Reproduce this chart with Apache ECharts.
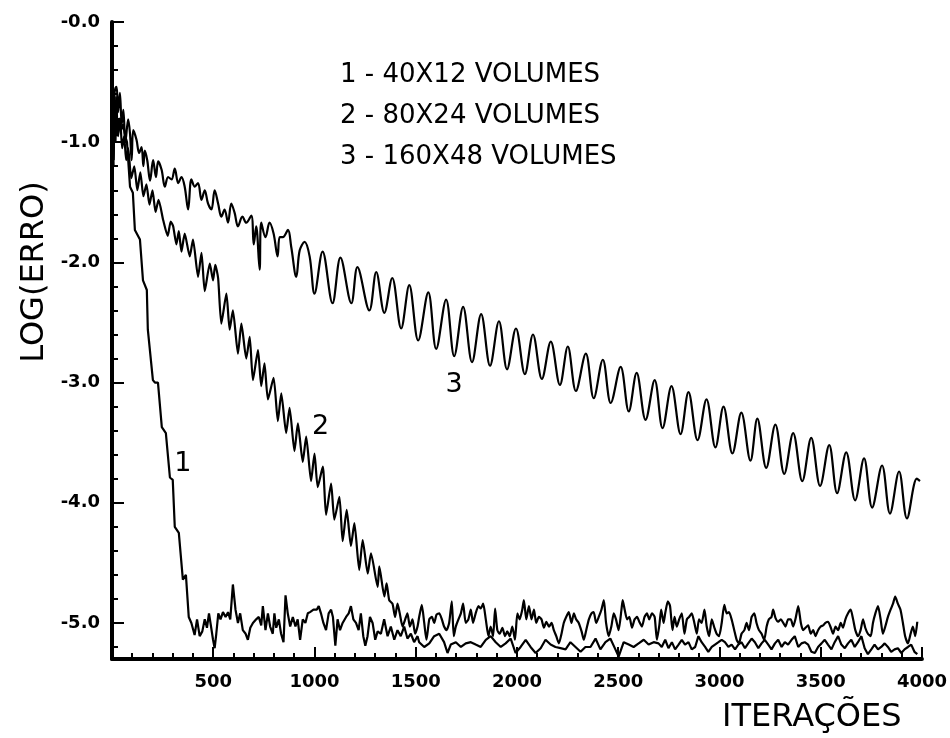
<!DOCTYPE html>
<html>
<head>
<meta charset="utf-8">
<script src="https://cdn.jsdelivr.net/npm/echarts@6/dist/echarts.min.js"></script>
<style>html,body{margin:0;padding:0;background:#fff}#c{width:950px;height:738px}</style>
</head>
<body>
<div id="c"></div>
<script>
// ---- Curve 1 : 40X12 VOLUMES ----
const s1Iter = [0,4,8,12,17,22,28,35,45,55,65,74,89,103,113,138,153,172,177,202,212,227,246,266,286,300,310,330,350,365,379,392,
408,420,433,446,458,469,479,490,499,507,515,525,536,548,561,573,584,597,610,622,633,646,660,671,683,696,712,725,737,745,758,770,781,794,802,811,824,835,847,857,868,880,893,906,917,929,942,955,967,978,995,1011,1021,1032,1044,1057,1070,1082,1091,1103,1114,1126,1139,1156,1169,1180,1192,1205,1218,1229,1241,1251,1262,1274,1287,1300,1312,
1328,1344,1361,1377,1394,1410,1426,1443,1459,1476,1492,1509,
1517,1542,1567,1591,1616,1640,1657,1673,1698,1723,1747,1772,1796,1821,1846,1870,1895,1920,1944,1969,1993,2018,2043,2067,2092,2117,2141,2166,2190,2215,2240,2264,2289,2314,2338,2363,2388,2412,2437,2461,2486,2502,2527,2552,2576,2601,2626,2650,2675,2699,
2715,2732,2748,2765,2781,2798,2814,2830,2847,2863,2880,2896,2912,2929,2945,2962,2978,2995,3011,3027,3044,3060,3077,3093,3109,3126,3142,3159,3175,3192,3208,3224,3241,3257,3274,3290,3307,3323,3339,3356,3372,3389,3405,3421,3438,3454,3471,3487,3504,3520,3536,3553,3569,3586,3602,3619,3635,3651,3668,3684,3701,3717,3733,3750,3766,3783,3799,3816,3832,3848,3865,3881,3898,3914,3931,3947,3963,3977];
const s1Log = [-1.25,-0.80,-1.15,-0.75,-1.00,-0.70,-0.95,-0.80,-0.90,-0.85,-0.95,-1.00,-1.37,-1.42,-1.73,-1.81,-2.15,-2.23,-2.56,-2.98,-3.00,-3.00,-3.37,-3.42,-3.79,-3.81,-4.20,-4.25,-4.64,-4.60,-4.95,-5.00,
-5.10,-4.97,-5.11,-5.07,-4.97,-5.04,-4.92,-5.04,-5.14,-5.21,-5.09,-4.92,-4.97,-4.91,-4.95,-4.91,-4.97,-4.68,-4.89,-5.00,-4.92,-5.06,-5.09,-5.14,-5.04,-5.00,-4.97,-4.95,-5.02,-4.86,-5.06,-4.92,-5.03,-5.09,-4.92,-5.04,-4.97,-5.09,-5.16,-4.77,-4.92,-5.03,-4.95,-5.03,-4.97,-5.14,-4.97,-5.00,-4.92,-4.91,-4.89,-4.89,-4.86,-4.92,-5.00,-5.06,-4.92,-4.89,-4.95,-5.19,-4.97,-5.06,-5.00,-4.95,-4.92,-4.86,-4.97,-5.00,-5.06,-4.92,-5.11,-5.19,-5.11,-4.95,-5.00,-5.14,-5.07,
-5.09,-4.97,-5.11,-5.03,-5.14,-5.06,-5.11,-5.03,-5.13,-5.09,-5.16,-5.11,
-5.16,-5.20,-5.17,-5.11,-5.09,-5.16,-5.25,-5.18,-5.16,-5.20,-5.17,-5.16,-5.18,-5.20,-5.14,-5.11,-5.16,-5.20,-5.17,-5.13,-5.25,-5.20,-5.14,-5.20,-5.25,-5.21,-5.14,-5.18,-5.20,-5.21,-5.22,-5.16,-5.20,-5.24,-5.20,-5.20,-5.13,-5.22,-5.16,-5.13,-5.22,-5.28,-5.16,-5.18,-5.20,-5.17,-5.14,-5.18,-5.16,-5.17,
-5.20,-5.14,-5.21,-5.16,-5.22,-5.18,-5.14,-5.18,-5.16,-5.22,-5.20,-5.11,-5.16,-5.20,-5.24,-5.20,-5.18,-5.16,-5.14,-5.16,-5.20,-5.18,-5.22,-5.18,-5.16,-5.21,-5.17,-5.13,-5.16,-5.21,-5.17,-5.14,-5.18,-5.22,-5.17,-5.14,-5.20,-5.16,-5.18,-5.14,-5.11,-5.20,-5.17,-5.16,-5.18,-5.24,-5.25,-5.20,-5.17,-5.14,-5.18,-5.22,-5.16,-5.11,-5.18,-5.21,-5.17,-5.14,-5.20,-5.16,-5.11,-5.21,-5.26,-5.22,-5.18,-5.22,-5.20,-5.17,-5.20,-5.24,-5.22,-5.21,-5.25,-5.22,-5.20,-5.18,-5.24,-5.26];

// ---- Curve 2 : 80X24 VOLUMES ----
const s2Iter = [0,4,8,12,16,20,25,30,40,50,60,70,80,95,110,125,140,155,170,185,200,215,230,253,275,290,302,318,330,343,359,384,400,425,442,458,483,499,510,524,540,565,581,597,622,639,663,680,696,721,737,753,770,798,819,836,860,877,901,918,942,959,983,1000,1016,1041,1057,1082,1098,1123,1139,1159,1180,1197,1221,1238,1263,1279,1312,1320,1345,1356,1369,
1385,1398,1410,1421,1435,1448,1459,1471,1484,1497,1509,
1517,1530,1542,1553,1567,1580,1591,1603,1616,1629,1640,1652,1665,1678,1688,1698,1711,1723,1734,1747,1760,1772,1783,1796,1810,1821,1833,1846,1859,1870,1882,1892,1903,1915,1928,1941,1952,1964,1977,1990,2002,2013,2026,2034,2046,2059,2072,2084,2095,2108,2121,2133,2145,2158,2171,2182,2194,2207,2220,2231,2243,2256,2269,2281,2292,2305,2319,2330,2342,2355,2368,2379,2391,2404,2417,2429,2440,2453,2466,2478,2489,2502,2516,2522,2532,2544,2555,2568,2581,2593,2604,2617,2630,2642,2653,2667,2680,2691,2703,
2712,2724,2732,2745,2756,2768,2778,2789,2801,2814,2827,2839,2850,2863,2876,2888,2899,2912,2926,2937,2949,2962,2975,2986,2998,3011,3024,3036,3047,3060,3073,3085,3096,3109,3123,3134,3146,3159,3172,3183,3195,3208,3221,3233,3244,3257,3265,3277,3290,3303,3315,3326,3339,3352,3364,3375,3389,3402,3413,3425,3438,3451,3463,3474,3487,3500,3512,3523,3536,3550,3561,3573,3586,3599,3610,3622,3635,3648,3660,3671,3684,3697,3709,3720,3733,3747,3758,3770,3783,3796,3807,3819,3832,3845,3857,3868,3881,3894,3906,3917,3931,3944,3955,3967,3977];
const s2Log = [-1.30,-0.90,-1.20,-0.65,-0.85,-0.62,-0.80,-0.95,-0.80,-1.05,-0.95,-1.15,-1.05,-1.30,-1.20,-1.40,-1.25,-1.45,-1.35,-1.52,-1.40,-1.58,-1.48,-1.65,-1.78,-1.66,-1.70,-1.85,-1.74,-1.91,-1.76,-1.95,-1.81,-2.12,-1.92,-2.24,-2.01,-2.15,-2.02,-2.13,-2.51,-2.26,-2.56,-2.40,-2.76,-2.51,-2.80,-2.62,-2.98,-2.73,-3.03,-2.84,-3.14,-2.96,-3.32,-3.09,-3.42,-3.21,-3.57,-3.34,-3.66,-3.45,-3.82,-3.59,-3.87,-3.70,-4.10,-3.84,-4.14,-3.95,-4.32,-4.06,-4.36,-4.17,-4.56,-4.31,-4.59,-4.42,-4.70,-4.53,-4.78,-4.67,-4.81,
-4.84,-4.95,-4.84,-4.92,-5.03,-4.97,-4.92,-5.03,-4.97,-5.09,-5.03,
-4.95,-4.85,-5.00,-5.14,-4.97,-4.95,-5.00,-4.93,-4.92,-4.97,-5.03,-5.06,-5.00,-4.82,-5.11,-5.03,-4.97,-4.92,-4.84,-5.00,-4.97,-4.89,-5.00,-4.92,-4.86,-4.88,-4.84,-4.97,-5.11,-5.03,-5.11,-4.88,-5.06,-5.09,-5.04,-5.11,-5.07,-5.11,-5.03,-5.14,-4.92,-4.97,-4.89,-4.81,-4.97,-4.86,-4.97,-4.89,-5.00,-4.95,-4.97,-5.04,-4.99,-5.03,-5.00,-5.06,-5.11,-5.17,-5.09,-5.00,-4.95,-4.91,-5.00,-4.92,-4.97,-5.00,-5.07,-5.14,-5.06,-4.97,-4.92,-4.91,-5.00,-4.95,-4.89,-4.81,-5.00,-5.11,-5.03,-4.92,-4.97,-5.06,-4.89,-4.81,-4.89,-4.97,-4.95,-5.04,-4.97,-4.95,-4.99,-5.03,-4.95,-4.92,-4.97,-4.92,-4.95,-5.14,-5.02,
-4.89,-5.00,-4.92,-4.82,-4.86,-5.06,-4.95,-5.03,-4.97,-4.92,-5.09,-4.97,-4.95,-4.92,-5.00,-5.09,-4.97,-5.00,-4.89,-5.03,-5.11,-4.97,-5.04,-5.09,-5.11,-5.00,-4.85,-4.92,-4.91,-4.97,-5.06,-5.14,-5.17,-5.09,-5.06,-5.00,-5.06,-4.95,-4.92,-5.00,-5.06,-5.09,-5.14,-5.03,-4.97,-4.95,-4.89,-4.96,-4.99,-4.97,-5.00,-5.03,-4.97,-4.97,-5.03,-4.97,-4.86,-5.00,-5.06,-5.04,-5.02,-5.09,-5.06,-5.11,-5.06,-5.03,-5.02,-5.00,-4.99,-5.04,-5.09,-5.03,-5.06,-5.00,-5.04,-4.97,-4.92,-4.89,-4.97,-5.06,-5.11,-5.06,-4.97,-5.04,-5.09,-5.11,-5.00,-4.92,-4.86,-4.97,-5.09,-5.03,-4.95,-4.89,-4.84,-4.78,-4.84,-4.89,-5.00,-5.11,-5.17,-5.09,-5.03,-5.11,-4.99];

// ---- Curve 3 : 160X48 VOLUMES ----
const s3Iter = [0,4,8,12,17,23,30,39,48,56,66,80,89,97,105,121,134,146,155,162,174,188,203,217,228,245,261,277,294,310,327,343,359,376,392,409,425,442,458,474,491,507,524,540,556,573,589,606,622,644,663,688,700,712,729,737,758,778,798,818,828,844,869,885,910,927,951,976,1000,1040,1089,1128,1182,1212,1271,1305,1345,1384,1428,1468,1512,1562,1601,1650,1690,1734,1778,1823,1867,1911,1951,1995,2039,2079,2123,2167,2212,2251,2291,2340,2379,2424,2463,2512,2552,2591,2635,2680,2719,2763,2808,2847,2892,2936,2980,3020,3064,3108,3153,3187,3231,3276,3320,3364,3409,3453,3497,3542,3581,3626,3670,3714,3754,3803,3842,3887,3926,3975,3990];
const s3Log = [-1.20,-0.75,-1.05,-0.60,-0.55,-0.54,-0.75,-0.59,-0.85,-0.73,-1.00,-0.81,-0.93,-1.15,-0.90,-0.98,-1.09,-1.04,-1.20,-1.07,-1.15,-1.32,-1.15,-1.29,-1.16,-1.23,-1.37,-1.29,-1.31,-1.22,-1.34,-1.29,-1.37,-1.56,-1.31,-1.37,-1.34,-1.48,-1.40,-1.51,-1.56,-1.40,-1.51,-1.62,-1.56,-1.67,-1.51,-1.59,-1.70,-1.62,-1.67,-1.61,-1.85,-1.70,-2.06,-1.67,-1.79,-1.67,-1.76,-1.95,-1.79,-1.79,-1.73,-1.87,-2.12,-1.90,-1.83,-1.95,-2.26,-1.91,-2.34,-1.96,-2.34,-2.04,-2.40,-2.08,-2.42,-2.13,-2.55,-2.19,-2.65,-2.25,-2.72,-2.31,-2.78,-2.37,-2.83,-2.43,-2.86,-2.49,-2.89,-2.55,-2.93,-2.60,-2.97,-2.66,-3.02,-2.70,-3.07,-2.76,-3.13,-2.81,-3.17,-2.87,-3.24,-2.92,-3.31,-2.98,-3.38,-3.03,-3.43,-3.08,-3.48,-3.14,-3.54,-3.20,-3.59,-3.25,-3.65,-3.30,-3.71,-3.35,-3.76,-3.42,-3.82,-3.46,-3.86,-3.52,-3.92,-3.58,-3.98,-3.63,-4.04,-3.69,-4.09,-3.74,-4.13,-3.80,-3.82];

// ---- Axis ticks and labels ----
const xMajorTicks = [500,1000,1500,2000,2500,3000,3500,4000];
const yMajorTicks = [-5,-4,-3,-2,-1,0];
const yMinorTicks = [-5.2,-5.0,-4.8,-4.6,-4.4,-4.2,-4.0,-3.8,-3.6,-3.4,-3.2,-3.0,-2.8,-2.6,-2.4,-2.2,-2.0,-1.8,-1.6,-1.4,-1.2,-1.0,-0.8,-0.6,-0.4,-0.2,0];
const legendLines = ['1 - 40X12 VOLUMES','2 - 80X24 VOLUMES','3 - 160X48 VOLUMES'];
const curveNames = ['1','2','3'];
const curveLabelIter = [350,1030,1690];
const curveLabelLog = [-3.68,-3.37,-3.02];
const xTitle = 'ITERAÇÕES';
const yTitle = 'LOG(ERRO)';

function zip(a,b){ return a.map((v,i)=>[v,b[i]]); }

const FONT = 'DejaVu Sans';
const chart = echarts.init(document.getElementById('c'), null, {renderer:'canvas'});

function mkSeries(idx, iters, logs, smooth){
  return {
    type:'line', name: legendLines[idx], data: zip(iters, logs),
    showSymbol:false, symbol:'none', smooth: smooth, clip:true,
    lineStyle:{color:'#000', width:2.2},
    xAxisIndex:0, yAxisIndex:0,
    markPoint:{
      symbol:'circle', symbolSize:0, animation:false,
      data:[{coord:[curveLabelIter[idx], curveLabelLog[idx]], value:curveNames[idx]}],
      label:{show:true, position:'inside', formatter:curveNames[idx], color:'#000', fontFamily:FONT, fontSize:27}
    }
  };
}

const option = {
  animation:false,
  backgroundColor:'#fff',
  grid:{left:112, right:28, top:22, bottom:79},
  xAxis:[{
    type:'value', min:0, max:4000, interval:500, position:'bottom',
    axisLine:{show:true, onZero:false, lineStyle:{color:'#000', width:4}},
    axisTick:{show:true, inside:true, length:12, lineStyle:{color:'#000', width:2}},
    minorTick:{show:true, splitNumber:5, length:6, lineStyle:{color:'#000', width:2}},
    splitLine:{show:false}, minorSplitLine:{show:false},
    axisLabel:{show:true, margin:14, color:'#000', fontFamily:FONT, fontWeight:'bold', fontSize:18,
      formatter:v => xMajorTicks.indexOf(v) >= 0 ? String(v) : ''}
  }],
  yAxis:[{
    type:'value', min:-5.3, max:0,
    axisLine:{show:true, onZero:false, lineStyle:{color:'#000', width:4}},
    axisTick:{show:true, inside:true, length:12, customValues:yMajorTicks, lineStyle:{color:'#000', width:2}},
    splitLine:{show:false},
    axisLabel:{show:true, margin:12, customValues:yMajorTicks, color:'#000', fontFamily:FONT, fontWeight:'bold', fontSize:18,
      formatter:v => (Math.abs(v) < 1e-9 ? '-0.0' : v.toFixed(1))}
  },{
    type:'value', min:-5.3, max:0, position:'left',
    axisLine:{show:false, onZero:false},
    axisTick:{show:true, inside:true, length:6, customValues:yMinorTicks, lineStyle:{color:'#000', width:2}},
    splitLine:{show:false},
    axisLabel:{show:false}
  }],
  series:[
    mkSeries(0, s1Iter, s1Log, false),
    mkSeries(1, s2Iter, s2Log, 0.2),
    mkSeries(2, s3Iter, s3Log, 0.35)
  ],
  graphic:[
    {type:'text', left:340, top:62, style:{text:legendLines[0], fill:'#000', font:'26px "DejaVu Sans"'}},
    {type:'text', left:340, top:103, style:{text:legendLines[1], fill:'#000', font:'26px "DejaVu Sans"'}},
    {type:'text', left:340, top:144, style:{text:legendLines[2], fill:'#000', font:'26px "DejaVu Sans"'}},
    {type:'text', left:722, top:702, style:{text:xTitle, fill:'#000', font:'32px "DejaVu Sans"'}},
    {type:'text', x:35, y:272, rotation:Math.PI/2, style:{text:yTitle, fill:'#000', font:'32px "DejaVu Sans"', align:'center', verticalAlign:'middle'}}
  ]
};
chart.setOption(option);
</script>
</body>
</html>
